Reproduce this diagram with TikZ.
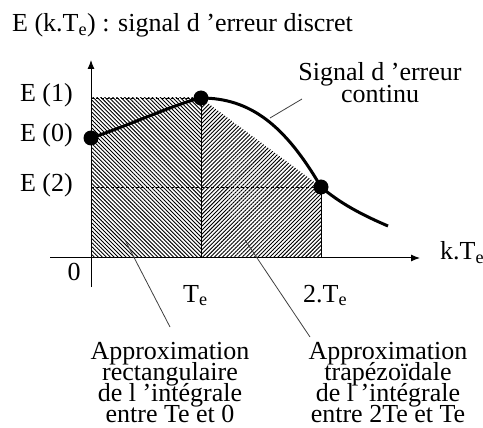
\documentclass[tikz,border=0pt]{standalone}
\usepackage{fontspec}
\setmainfont{Liberation Serif}
\usetikzlibrary{patterns.meta,arrows.meta}
\newcommand{\tightlines}{\lineskiplimit=-100pt\relax\lineskip=0pt\relax}
\begin{document}
\begin{tikzpicture}[x=1pt,y=-1pt,
  lbl/.style={font=\fontsize{26}{21}\selectfont\tightlines, inner sep=0pt},
  blk/.style={lbl, align=center, anchor=base},
  dot/.style={circle,fill=black,minimum size=15pt,inner sep=0pt},
  lead/.style={draw=black!75, line width=0.8pt},
  axis/.style={line width=1pt,-{Latex[length=9pt,width=7pt]}},
  guide/.style={line width=0.7pt, dash pattern=on 3pt off 2pt},
  hatchA/.style={pattern={Lines[angle=-45,distance=2.8pt,line width=0.9pt]}},
  hatchB/.style={pattern={Lines[angle=45,distance=2.8pt,line width=0.9pt]}},
  curve/.style={line width=3pt}
]
\useasboundingbox (0,0) rectangle (483,428);

\coordinate (O) at (91,258);
\coordinate (A) at (91,98);
\coordinate (T1) at (201,258);
\coordinate (T2) at (321,258);
\coordinate (P1) at (201,98);
\coordinate (P2) at (321,187);
\coordinate (Q) at (91,187);

% hatched areas
\fill[hatchA] (O) rectangle (P1);
\fill[hatchB] (T1) -- (P1) -- (P2) -- (T2) -- cycle;

% guides
\draw[guide] (A) -- (P1);
\draw[guide] (Q) -- (P2);
\draw[line width=0.8pt] (T1) -- (P1);
\draw[line width=0.8pt] (T2) -- (P2);

% axes
\coordinate (xs) at (50,258);
\coordinate (xe) at (420,258);
\coordinate (ys) at (91,287);
\coordinate (ye) at (91,60);
\draw[axis] (xs) -- (xe);
\draw[axis] (ys) -- (ye);

% points
\node[dot] (e0) at (91,138) {};
\node[dot] (e1) at (201,98) {};
\node[dot] (e2) at (321,187) {};
\coordinate (cend) at (388,226);

\draw[curve] (e0.center) .. controls (130,125) and (175,104) .. (e1.center)
  .. controls (250,98) and (285,125) .. (e2.center)
  .. controls (340,203) and (360,214) .. (cend);

% labels
\node[lbl,anchor=base west] (title) at (12,32) {E (k.T\textsubscript{e}) : signal d ’erreur discret};
\node[lbl,anchor=base east] (lE1) at (73,102) {E (1)};
\node[lbl,anchor=base east] (lE0) at (73,142) {E (0)};
\node[lbl,anchor=base east] (lE2) at (73,192) {E (2)};
\node[lbl,anchor=base] (zero) at (74,280) {0};
\node[lbl,anchor=base west] (lT1) at (183,302) {T\textsubscript{e}};
\node[lbl,anchor=base west] (lT2) at (303,302) {2.T\textsubscript{e}};
\node[lbl,anchor=base west] (lkT) at (440,260) {k.T\textsubscript{e}};

\node[blk,font=\fontsize{26}{23}\selectfont\tightlines] (sig) at (380,103) {Signal d ’erreur\\continu};
\node[blk] (rect) at (170,422) {Approximation\\rectangulaire\\de l ’intégrale\\entre Te et 0};
\node[blk] (trap) at (388,422) {Approximation\\trapézoïdale\\de l ’intégrale\\entre 2Te et Te};

% leaders
\coordinate (s1) at (270,118);
\coordinate (s2) at (302,99);
\draw[lead] (s1) -- (s2);
\coordinate (r1) at (125,240);
\coordinate (r2) at (170,327);
\draw[lead] (r1) -- (r2);
\coordinate (t1) at (245,240);
\coordinate (t2) at (310,337);
\draw[lead] (t1) -- (t2);
\end{tikzpicture}
\end{document}
